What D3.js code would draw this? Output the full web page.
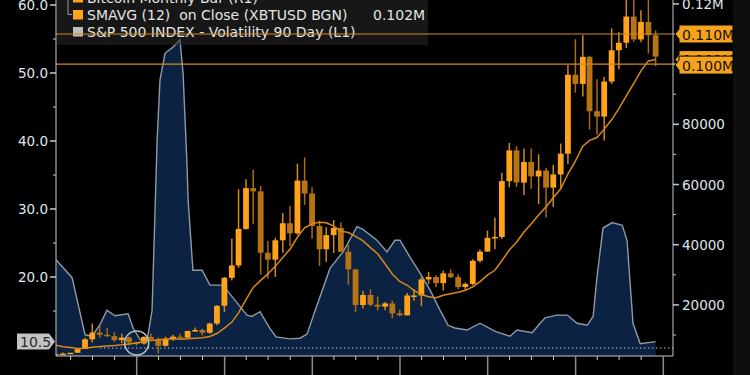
<!DOCTYPE html>
<html>
<head>
<meta charset="utf-8"/>
<script src="https://cdn.jsdelivr.net/npm/d3@7"></script>
<style>body{margin:0;background:#000} text{white-space:pre}</style>
</head>
<body>
<script>

// Bitcoin monthly bars (XBTUSD), Jan 2019 .. Nov 2025
var months = ["2019-01","2019-02","2019-03","2019-04","2019-05","2019-06","2019-07","2019-08","2019-09","2019-10","2019-11","2019-12",
  "2020-01","2020-02","2020-03","2020-04","2020-05","2020-06","2020-07","2020-08","2020-09","2020-10","2020-11","2020-12",
  "2021-01","2021-02","2021-03","2021-04","2021-05","2021-06","2021-07","2021-08","2021-09","2021-10","2021-11","2021-12",
  "2022-01","2022-02","2022-03","2022-04","2022-05","2022-06","2022-07","2022-08","2022-09","2022-10","2022-11","2022-12",
  "2023-01","2023-02","2023-03","2023-04","2023-05","2023-06","2023-07","2023-08","2023-09","2023-10","2023-11","2023-12",
  "2024-01","2024-02","2024-03","2024-04","2024-05","2024-06","2024-07","2024-08","2024-09","2024-10","2024-11","2024-12",
  "2025-01","2025-02","2025-03","2025-04","2025-05","2025-06","2025-07","2025-08","2025-09","2025-10","2025-11"];
var opens = [3690,3437,3820,4100,5320,8570,10800,10080,9600,8300,9150,7550,
  7190,9350,8540,6410,8630,9450,9140,11330,11650,10780,13800,19700,
  28990,33110,45240,58800,57720,37330,35040,41460,47130,43800,61300,57000,
  46200,38480,43190,45540,37640,31790,19980,23300,20050,19420,20490,17170,
  16550,23130,23150,28470,29270,27220,30480,29230,25940,26970,34650,37720,
  42280,42580,61130,71330,60640,67490,62680,64630,58970,63330,70220,96450,
  93430,102400,84350,82550,94200,104600,107100,115800,108200,114000,109600];
var highs = [3850,4200,4100,5600,9100,13800,13200,12300,10900,10400,9500,7750,
  9570,10500,9180,9460,10080,10400,11450,12480,12070,14090,19860,29300,
  41950,58350,61780,64860,59500,41330,42320,50500,52920,66930,69000,59100,
  47990,45800,48200,47450,40000,31960,24670,25200,22800,21000,21450,18390,
  23950,25250,29200,31000,29820,31390,31800,30200,27470,35200,38420,44700,
  48970,63900,73800,72700,71950,71950,70000,65600,66500,73600,99650,108300,
  109600,102750,95000,95700,111900,110600,123200,124500,117900,126200,111200];
var lows = [3400,3400,3800,4100,5320,7500,9100,9400,7750,7300,6500,6430,
  6870,8450,3850,6160,8100,8900,8960,10990,9850,10390,13200,17600,
  28130,32300,44960,47000,30000,28800,29300,37330,39600,43300,53250,42000,
  32950,34320,37200,37700,26700,17600,18780,19550,18150,18200,15480,16330,
  16500,21400,19600,26940,25870,24800,28860,25300,24900,26560,34100,37620,
  38550,41880,59100,59200,56550,58600,53500,49050,52550,58900,66830,90500,
  89250,78200,76600,74600,93400,98300,105300,107400,107300,103500,99300];
var closes = [3437,3820,4100,5320,8570,10800,10080,9600,8300,9150,7550,7190,
  9350,8540,6410,8630,9450,9140,11330,11650,10780,13800,19700,28990,
  33110,45240,58800,57720,37330,35040,41460,47130,43800,61300,57000,46200,
  38480,43190,45540,37640,31790,19980,23300,20050,19420,20490,17170,16550,
  23130,23150,28470,29270,27220,30480,29230,25940,26970,34650,37720,42280,
  42580,61130,71330,60640,67490,62680,64630,58970,63330,70220,96450,93430,
  102400,84350,82550,94200,104600,107100,115800,108200,114000,109600,102500];
// closes Feb..Dec 2018, needed for the 12 month average at the left edge
var priorCloses = [10330,6930,9240,7490,6390,7730,7030,6630,6370,4040,3740];

// S&P 500 volatility 90 day
var volDates = ["2019-01-31","2019-04-07","2019-05-31","2019-06-29","2019-08-01","2019-08-30","2019-10-03","2019-11-26","2019-12-17",
  "2020-01-15","2020-02-13","2020-03-05","2020-03-26","2020-04-07","2020-04-28","2020-05-31","2020-06-29","2020-07-12","2020-07-28",
  "2020-08-02","2020-08-22","2020-09-29","2020-11-01","2020-12-25","2021-02-22","2021-04-04","2021-04-25","2021-05-28","2021-07-09",
  "2021-08-03","2021-09-30","2021-11-11","2021-12-10","2022-01-12","2022-03-16","2022-05-09","2022-07-06","2022-07-31","2022-09-27",
  "2022-11-08","2022-12-11","2023-01-01","2023-02-12","2023-03-25","2023-05-06","2023-06-17","2023-07-20","2023-08-18","2023-10-07",
  "2023-11-30","2024-02-01","2024-04-03","2024-05-02","2024-07-04","2024-08-06","2024-08-27","2024-10-16","2024-11-27","2025-01-07",
  "2025-02-18","2025-03-15","2025-03-31","2025-04-25","2025-06-02","2025-07-14","2025-08-03","2025-08-28","2025-09-27","2025-11-30"];
var volValues = [22.5,19.9,11.5,11.3,13.0,15.1,14.3,14.6,12.5,
  10.8,10.6,15.1,40.1,49.0,52.9,53.8,54.9,50.0,36.8,
  31.3,21.0,21.0,18.8,18.8,16.2,14.4,14.2,14.9,12.4,
  11.2,10.9,11.0,11.6,15.0,21.3,23.7,27.4,27.0,25.4,
  23.7,25.4,25.4,22.9,20.6,18.1,15.1,12.9,12.5,12.2,
  13.2,12.0,11.3,12.2,11.8,13.2,14.0,14.4,14.4,13.2,
  12.9,14.2,20.0,27.2,28.0,27.6,25.4,13.2,10.2,10.5];

var leftTicks = [20, 30, 40, 50, 60];
var leftMinor = [15, 25, 35, 45, 55];
var rightTicks = [20000, 40000, 60000, 80000, 100000, 120000];
var rightTickLabels = ["20000", "40000", "60000", "80000", "", "0.12M"];
var rightMinor = [10000, 30000, 50000, 70000, 90000, 110000];
var priceLines = [110000, 100000];
var priceTags = [{v: 101500, t: "0.102M"}, {v: 110000, t: "0.110M"}, {v: 100000, t: "0.100M"}];
var volLast = 10.5, volFloor = 9.55;
var legendRows = ["Bitcoin Monthly Bar (R1)", "SMAVG (12)  on Close (XBTUSD BGN)", "S&P 500 INDEX - Volatility 90 Day (L1)"];
var smaLabel = "0.102M";

var W = 750, H = 375;
var plotL = 56, plotR = 673, plotT = 0, plotB = 356;
var font = "DejaVu Sans";
var axisCol = "#c4c8cc", textCol = "#dfe5ec";

var svg = d3.select("body").append("svg")
  .attr("width", W).attr("height", H)
  .style("display", "block").style("background", "#000");

var parse = d3.timeParse("%Y-%m-%d");
var x = d3.scaleTime().domain([parse("2020-01-01"), parse("2026-01-01")]).range([136.7, 663.3]);
var yL = d3.scaleLinear().domain([10, 60]).range([345, 5]);
var yR = d3.scaleLinear().domain([0, 120000]).range([365.1, 3.9]);

svg.append("rect").attr("x", 733).attr("y", 0).attr("width", W - 733).attr("height", H).attr("fill", "#0e0e0e");

svg.append("clipPath").attr("id", "plot").append("rect")
  .attr("x", plotL).attr("y", plotT).attr("width", plotR - plotL).attr("height", plotB - plotT);
var g = svg.append("g").attr("clip-path", "url(#plot)");

// volatility area
var vol = volDates.map(function(d, i) { return {date: parse(d), v: volValues[i]}; });
g.append("path").datum(vol)
  .attr("fill", "#0b2242")
  .attr("d", d3.area().x(function(d) { return x(d.date); }).y0(plotB).y1(function(d) { return yL(d.v); }));
g.append("path").datum(vol)
  .attr("fill", "none").attr("stroke", "#8e9aa8").attr("stroke-width", 1.4)
  .attr("d", d3.line().x(function(d) { return x(d.date); }).y(function(d) { return yL(d.v); }));

g.append("line")
  .attr("x1", x(parse("2019-08-01"))).attr("x2", plotR)
  .attr("y1", yL(volFloor)).attr("y2", yL(volFloor))
  .attr("stroke", "#b8c0c8").attr("stroke-width", 1).attr("stroke-dasharray", "1.5,2.5");

// candles, dated at month end
var bars = months.map(function(m, i) {
  var p = m.split("-");
  return {date: new Date(+p[0], +p[1], 0), o: opens[i], h: highs[i], l: lows[i], c: closes[i]};
});
var cw = 5.8;
var candle = g.selectAll("g.bar").data(bars).enter().append("g").attr("class", "bar");
candle.append("line")
  .attr("x1", function(d) { return x(d.date); }).attr("x2", function(d) { return x(d.date); })
  .attr("y1", function(d) { return yR(d.h); }).attr("y2", function(d) { return yR(d.l); })
  .attr("stroke", function(d) { return d.c >= d.o ? "#cf8a1d" : "#a86b14"; })
  .attr("stroke-width", 1.5);
candle.append("rect")
  .attr("x", function(d) { return x(d.date) - cw / 2; })
  .attr("width", cw)
  .attr("y", function(d) { return yR(Math.max(d.o, d.c)); })
  .attr("height", function(d) { return Math.max(1.5, Math.abs(yR(d.o) - yR(d.c))); })
  .attr("fill", function(d) { return d.c >= d.o ? "#ffa31a" : "#b77414"; });

// 12 month simple average of closes
var allCloses = priorCloses.concat(closes);
var sma = bars.map(function(b, i) { return {date: b.date, v: d3.mean(allCloses.slice(i, i + 12))}; });
g.append("path").datum(sma)
  .attr("fill", "none").attr("stroke", "#d9881a").attr("stroke-width", 1.5)
  .attr("d", d3.line().x(function(d) { return x(d.date); }).y(function(d) { return yR(d.v); }));

svg.append("circle")
  .attr("cx", x(parse("2020-01-01"))).attr("cy", yL(10.3)).attr("r", 12)
  .attr("fill", "none").attr("stroke", "#b9c1c9").attr("stroke-width", 1.5);

// legend
var lg = svg.append("g");
lg.append("rect").attr("x", plotL + 1).attr("y", 0).attr("width", 371).attr("height", 45)
  .attr("fill", "#2a2a2a").attr("fill-opacity", 0.55);
lg.append("path").attr("d", "M68,0V14.5H72").attr("fill", "none").attr("stroke", "#9a9a9a").attr("stroke-width", 1);
var legCols = ["#ffa31a", "#ffa31a", "#bdbdbd"];
legendRows.forEach(function(t, i) {
  var base = 2.5 + i * 17;
  lg.append("rect").attr("x", 73).attr("y", base - 9.5).attr("width", 10).attr("height", 9.5).attr("fill", legCols[i]);
  lg.append("text").attr("x", 87).attr("y", base).text(t)
    .attr("fill", "#e4e4e4").style("font", "14px '" + font + "'");
});
lg.append("text").attr("x", 373).attr("y", 19.5).text(smaLabel)
  .attr("fill", "#e4e4e4").style("font", "14px '" + font + "'");

// last price lines
svg.selectAll("line.pl").data(priceLines).enter().append("line").attr("class", "pl")
  .attr("x1", plotL).attr("x2", plotR)
  .attr("y1", function(d) { return yR(d); }).attr("y2", function(d) { return yR(d); })
  .attr("stroke", "#d48a1e").attr("stroke-width", 1.2);

// axes
var ax = svg.append("g").attr("stroke", axisCol).attr("stroke-width", 1);
ax.append("line").attr("x1", plotL).attr("x2", plotL).attr("y1", 0).attr("y2", plotB);
ax.append("line").attr("x1", plotR).attr("x2", plotR).attr("y1", 0).attr("y2", plotB);
ax.append("line").attr("x1", plotL).attr("x2", plotR).attr("y1", plotB).attr("y2", plotB);

leftTicks.forEach(function(v) {
  ax.append("line").attr("x1", plotL - 6).attr("x2", plotL).attr("y1", yL(v)).attr("y2", yL(v)).attr("stroke-width", 1.5);
  svg.append("text").attr("x", 48).attr("y", yL(v) + 5).attr("text-anchor", "end")
    .attr("fill", textCol).style("font", "13.5px '" + font + "'").text(v.toFixed(1));
});
leftMinor.forEach(function(v) {
  ax.append("line").attr("x1", plotL - 3).attr("x2", plotL).attr("y1", yL(v)).attr("y2", yL(v));
});
rightTicks.forEach(function(v, i) {
  ax.append("line").attr("x1", plotR).attr("x2", plotR + 6).attr("y1", yR(v)).attr("y2", yR(v)).attr("stroke-width", 1.5);
  svg.append("text").attr("x", plotR + 9).attr("y", yR(v) + 5)
    .attr("fill", textCol).style("font", "13.5px '" + font + "'").text(rightTickLabels[i]);
});
rightMinor.forEach(function(v) {
  ax.append("line").attr("x1", plotR).attr("x2", plotR + 3).attr("y1", yR(v)).attr("y2", yR(v));
});

var quarters = d3.timeMonth.every(3).range(parse("2019-02-01"), parse("2026-02-05"));
quarters.forEach(function(d) {
  var major = d.getMonth() === 0;
  ax.append("line").attr("x1", x(d)).attr("x2", x(d))
    .attr("y1", plotB).attr("y2", major ? H : plotB + 4)
    .attr("stroke", major ? "#8a8d90" : axisCol).attr("stroke-width", major ? 1.5 : 1);
});

// price tags on the right axis
priceTags.forEach(function(p) {
  var cy = p.t === "0.100M" ? yR(p.v) + 1 : yR(p.v);
  var tg = svg.append("g");
  tg.append("path")
    .attr("d", "M" + (plotR + 2) + "," + cy + "L" + (plotR + 6) + "," + (cy - 5) + "V" + (cy - 9) + "H" + (plotR + 60) +
      "V" + (cy + 9) + "H" + (plotR + 6) + "V" + (cy + 5) + "Z")
    .attr("fill", "#f5a31c").attr("stroke", "#000").attr("stroke-width", 1);
  tg.append("text").attr("x", plotR + 9).attr("y", cy + 5.5).text(p.t)
    .attr("fill", "#1a1205").style("font", "14px '" + font + "'");
});

// last value of volatility on the left axis
var vy = yL(volLast);
svg.append("path")
  .attr("d", "M17," + (vy - 8) + "H49L55," + vy + "L49," + (vy + 8) + "H17Z")
  .attr("fill", "#c2c2c2");
svg.append("text").attr("x", 20).attr("y", vy + 5).text(volLast.toFixed(1))
  .attr("fill", "#2a2a2a").style("font", "14px '" + font + "'");
</script>
</body>
</html>
